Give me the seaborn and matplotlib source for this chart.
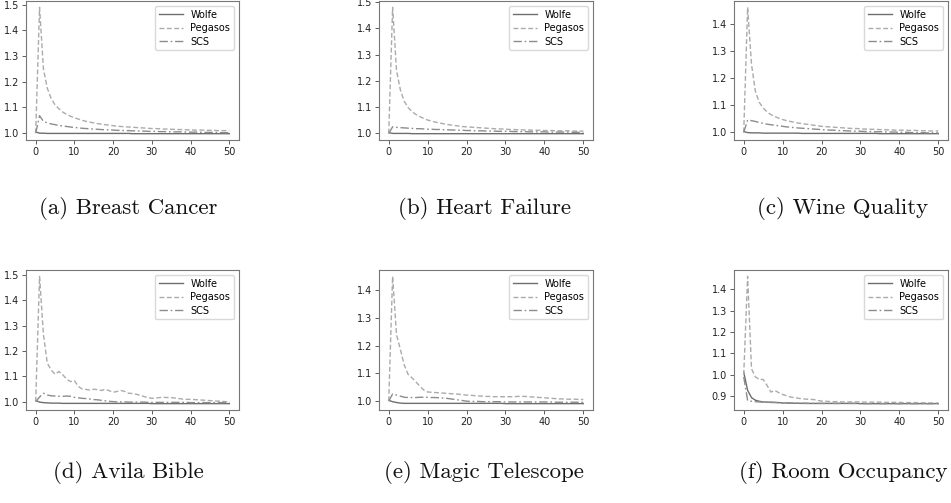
import matplotlib
matplotlib.use("Agg")
import matplotlib.pyplot as plt
import seaborn as sns
import pandas as pd

ITERATIONS = list(range(0, 51))
METHODS = ["Wolfe", "Pegasos", "SCS"]
CAPTIONS = ["(a) Breast Cancer", "(b) Heart Failure", "(c) Wine Quality",
            "(d) Avila Bible", "(e) Magic Telescope", "(f) Room Occupancy"]

# ---------------- (a) Breast Cancer ----------------
wolfe_a = [1.005, 1.000, 1.000, 0.999, 0.999, 0.999, 0.999, 0.999, 0.999, 0.999,
           0.999, 0.999, 0.999, 0.999, 0.999, 0.999, 0.999, 0.999, 0.999, 0.999,
           0.999, 0.999, 0.999, 0.999, 0.999, 0.998, 0.998, 0.998, 0.998, 0.998,
           0.998, 0.998, 0.998, 0.998, 0.998, 0.998, 0.998, 0.998, 0.998, 0.998,
           0.998, 0.998, 0.998, 0.998, 0.998, 0.998, 0.998, 0.998, 0.998, 0.998,
           0.998]
pegasos_a = [1.000, 1.490, 1.250, 1.175, 1.135, 1.110, 1.095, 1.082, 1.073, 1.066,
             1.060, 1.055, 1.050, 1.046, 1.043, 1.040, 1.037, 1.035, 1.033, 1.031,
             1.029, 1.027, 1.026, 1.025, 1.024, 1.023, 1.022, 1.021, 1.020, 1.019,
             1.018, 1.018, 1.017, 1.016, 1.016, 1.015, 1.015, 1.014, 1.014, 1.013,
             1.013, 1.012, 1.012, 1.012, 1.011, 1.011, 1.011, 1.010, 1.010, 1.010,
             1.010]
scs_a = [1.000, 1.068, 1.046, 1.040, 1.036, 1.033, 1.030, 1.028, 1.026, 1.024,
         1.022, 1.021, 1.019, 1.018, 1.017, 1.016, 1.015, 1.014, 1.013, 1.013,
         1.012, 1.011, 1.011, 1.010, 1.010, 1.009, 1.009, 1.008, 1.008, 1.007,
         1.007, 1.007, 1.006, 1.006, 1.006, 1.005, 1.005, 1.005, 1.005, 1.004,
         1.004, 1.004, 1.004, 1.003, 1.003, 1.003, 1.003, 1.003, 1.002, 1.002,
         1.002]

# ---------------- (b) Heart Failure ----------------
wolfe_b = [1.003, 1.000, 1.000, 1.000, 1.000, 1.000, 0.999, 0.999, 0.999, 0.999,
           0.999, 0.999, 0.999, 0.999, 0.999, 0.999, 0.999, 0.999, 0.999, 0.999,
           0.999, 0.999, 0.999, 0.999, 0.999, 0.999, 0.999, 0.999, 0.999, 0.999,
           0.999, 0.999, 0.999, 0.999, 0.999, 0.999, 0.999, 0.999, 0.999, 0.999,
           0.999, 0.999, 0.999, 0.999, 0.999, 0.999, 0.999, 0.999, 0.999, 0.999,
           0.999]
pegasos_b = [1.000, 1.480, 1.240, 1.165, 1.122, 1.098, 1.083, 1.072, 1.064, 1.057,
             1.051, 1.047, 1.043, 1.040, 1.037, 1.034, 1.032, 1.030, 1.028, 1.026,
             1.025, 1.024, 1.023, 1.022, 1.021, 1.020, 1.019, 1.018, 1.017, 1.017,
             1.016, 1.015, 1.015, 1.014, 1.014, 1.013, 1.013, 1.012, 1.012, 1.012,
             1.011, 1.011, 1.011, 1.010, 1.010, 1.010, 1.010, 1.009, 1.009, 1.009,
             1.009]
scs_b = [1.000, 1.025, 1.023, 1.022, 1.021, 1.020, 1.019, 1.018, 1.018, 1.017,
         1.016, 1.016, 1.015, 1.015, 1.014, 1.014, 1.013, 1.013, 1.012, 1.012,
         1.011, 1.011, 1.010, 1.010, 1.010, 1.009, 1.009, 1.009, 1.008, 1.008,
         1.008, 1.008, 1.007, 1.007, 1.007, 1.007, 1.006, 1.006, 1.006, 1.006,
         1.006, 1.005, 1.005, 1.005, 1.005, 1.005, 1.005, 1.004, 1.004, 1.004,
         1.004]

# ---------------- (c) Wine Quality ----------------
wolfe_c = [1.003, 0.999, 0.998, 0.998, 0.998, 0.997, 0.997, 0.997, 0.997, 0.997,
           0.997, 0.997, 0.997, 0.997, 0.997, 0.996, 0.996, 0.996, 0.996, 0.996,
           0.996, 0.996, 0.996, 0.996, 0.996, 0.996, 0.996, 0.996, 0.996, 0.996,
           0.996, 0.996, 0.996, 0.996, 0.996, 0.995, 0.995, 0.995, 0.995, 0.995,
           0.995, 0.995, 0.995, 0.995, 0.995, 0.995, 0.995, 0.995, 0.995, 0.995,
           0.995]
pegasos_c = [1.000, 1.460, 1.250, 1.150, 1.110, 1.090, 1.075, 1.065, 1.058, 1.052,
             1.047, 1.043, 1.040, 1.037, 1.034, 1.032, 1.030, 1.028, 1.026, 1.024,
             1.022, 1.021, 1.020, 1.019, 1.018, 1.017, 1.016, 1.015, 1.014, 1.014,
             1.013, 1.012, 1.012, 1.011, 1.011, 1.010, 1.010, 1.009, 1.009, 1.008,
             1.008, 1.008, 1.007, 1.007, 1.007, 1.006, 1.006, 1.006, 1.005, 1.005,
             1.005]
scs_c = [1.000, 1.045, 1.043, 1.040, 1.036, 1.033, 1.030, 1.028, 1.026, 1.024,
         1.022, 1.020, 1.019, 1.017, 1.016, 1.015, 1.014, 1.013, 1.012, 1.011,
         1.010, 1.009, 1.008, 1.008, 1.007, 1.006, 1.006, 1.005, 1.005, 1.004,
         1.004, 1.003, 1.003, 1.003, 1.002, 1.002, 1.002, 1.001, 1.001, 1.001,
         1.000, 1.000, 1.000, 0.999, 0.999, 0.999, 0.999, 0.998, 0.998, 0.998,
         0.998]

# ---------------- (d) Avila Bible ----------------
wolfe_d = [1.005, 0.998, 0.996, 0.995, 0.994, 0.994, 0.994, 0.993, 0.993, 0.993,
           0.993, 0.993, 0.993, 0.993, 0.993, 0.993, 0.993, 0.993, 0.993, 0.993,
           0.993, 0.993, 0.993, 0.993, 0.993, 0.993, 0.993, 0.993, 0.993, 0.993,
           0.992, 0.992, 0.992, 0.992, 0.992, 0.992, 0.992, 0.992, 0.992, 0.992,
           0.992, 0.992, 0.992, 0.992, 0.992, 0.992, 0.992, 0.992, 0.992, 0.992,
           0.992]
pegasos_d = [1.000, 1.495, 1.265, 1.152, 1.125, 1.108, 1.119, 1.106, 1.089, 1.079,
             1.083, 1.060, 1.050, 1.048, 1.046, 1.049, 1.047, 1.044, 1.049, 1.043,
             1.037, 1.040, 1.044, 1.040, 1.033, 1.032, 1.029, 1.025, 1.020, 1.016,
             1.013, 1.014, 1.016, 1.017, 1.016, 1.016, 1.014, 1.012, 1.010, 1.009,
             1.009, 1.008, 1.007, 1.006, 1.005, 1.004, 1.003, 1.002, 1.001, 1.000,
             0.999]
scs_d = [1.000, 1.018, 1.033, 1.026, 1.023, 1.022, 1.021, 1.021, 1.022, 1.021,
         1.017, 1.015, 1.013, 1.012, 1.010, 1.008, 1.007, 1.005, 1.003, 1.001,
         1.000, 0.999, 0.999, 0.999, 0.998, 0.998, 0.998, 0.998, 0.998, 0.997,
         0.997, 0.997, 0.997, 0.997, 0.997, 0.997, 0.997, 0.997, 0.997, 0.997,
         0.996, 0.996, 0.996, 0.996, 0.996, 0.996, 0.996, 0.996, 0.996, 0.996,
         0.996]

# ---------------- (e) Magic Telescope ----------------
wolfe_e = [1.003, 0.998, 0.995, 0.993, 0.992, 0.992, 0.992, 0.992, 0.992, 0.992,
           0.992, 0.992, 0.992, 0.992, 0.992, 0.992, 0.992, 0.992, 0.992, 0.992,
           0.992, 0.992, 0.992, 0.992, 0.992, 0.992, 0.992, 0.992, 0.992, 0.992,
           0.991, 0.991, 0.991, 0.991, 0.991, 0.991, 0.991, 0.991, 0.991, 0.991,
           0.991, 0.991, 0.991, 0.991, 0.991, 0.991, 0.991, 0.991, 0.991, 0.991,
           0.991]
pegasos_e = [1.000, 1.450, 1.240, 1.186, 1.130, 1.096, 1.084, 1.069, 1.054, 1.040,
             1.033, 1.032, 1.031, 1.030, 1.029, 1.028, 1.027, 1.026, 1.025, 1.023,
             1.022, 1.021, 1.020, 1.019, 1.018, 1.017, 1.017, 1.016, 1.016, 1.016,
             1.016, 1.016, 1.016, 1.017, 1.017, 1.017, 1.016, 1.015, 1.014, 1.013,
             1.012, 1.011, 1.010, 1.009, 1.008, 1.008, 1.007, 1.007, 1.007, 1.006,
             1.006]
scs_e = [1.000, 1.026, 1.022, 1.018, 1.014, 1.013, 1.013, 1.013, 1.014, 1.014,
         1.014, 1.013, 1.013, 1.012, 1.011, 1.010, 1.008, 1.006, 1.004, 1.002,
         1.000, 0.999, 0.999, 0.999, 0.998, 0.998, 0.998, 0.998, 0.998, 0.998,
         0.997, 0.997, 0.997, 0.997, 0.997, 0.997, 0.997, 0.997, 0.997, 0.997,
         0.997, 0.997, 0.997, 0.996, 0.996, 0.996, 0.996, 0.996, 0.996, 0.996,
         0.996]

# ---------------- (f) Room Occupancy ----------------
wolfe_f = [1.012, 0.927, 0.893, 0.881, 0.876, 0.873, 0.872, 0.872, 0.871, 0.870,
           0.868, 0.868, 0.867, 0.867, 0.867, 0.866, 0.866, 0.866, 0.866, 0.866,
           0.866, 0.866, 0.866, 0.866, 0.866, 0.866, 0.866, 0.866, 0.866, 0.866,
           0.865, 0.865, 0.865, 0.865, 0.865, 0.865, 0.865, 0.865, 0.865, 0.865,
           0.865, 0.865, 0.865, 0.865, 0.865, 0.865, 0.865, 0.865, 0.865, 0.865,
           0.865]
pegasos_f = [1.000, 1.460, 1.028, 0.990, 0.978, 0.978, 0.950, 0.919, 0.927, 0.916,
             0.908, 0.902, 0.896, 0.893, 0.890, 0.888, 0.886, 0.885, 0.884, 0.880,
             0.877, 0.876, 0.875, 0.874, 0.874, 0.873, 0.873, 0.873, 0.873, 0.873,
             0.873, 0.872, 0.872, 0.872, 0.872, 0.872, 0.871, 0.871, 0.871, 0.871,
             0.871, 0.870, 0.870, 0.870, 0.870, 0.869, 0.869, 0.869, 0.868, 0.868,
             0.868]
scs_f = [0.990, 0.880, 0.876, 0.874, 0.873, 0.872, 0.871, 0.870, 0.870, 0.869,
         0.868, 0.868, 0.868, 0.867, 0.867, 0.867, 0.867, 0.866, 0.866, 0.866,
         0.866, 0.866, 0.866, 0.866, 0.866, 0.866, 0.866, 0.866, 0.866, 0.866,
         0.865, 0.865, 0.865, 0.865, 0.865, 0.865, 0.865, 0.865, 0.865, 0.865,
         0.865, 0.865, 0.865, 0.865, 0.865, 0.865, 0.865, 0.865, 0.865, 0.865,
         0.865]

PANELS = [
    (wolfe_a, pegasos_a, scs_a),
    (wolfe_b, pegasos_b, scs_b),
    (wolfe_c, pegasos_c, scs_c),
    (wolfe_d, pegasos_d, scs_d),
    (wolfe_e, pegasos_e, scs_e),
    (wolfe_f, pegasos_f, scs_f),
]

# ---------------- styling ----------------
W, H = 951, 503
fig = plt.figure(figsize=(W / 100, H / 100), dpi=100)

palette = {"Wolfe": "#6e6e6e", "Pegasos": "#ababab", "SCS": "#8c8c8c"}
dashes = {"Wolfe": "", "Pegasos": (3.5, 1.8), "SCS": (6, 2, 1.2, 2)}

# axes boxes in pixels: (left, top, right, bottom)
col_px = [(26, 239), (379, 593), (734, 948)]
row_px = [(1, 140), (270, 410)]
cap_x = [128, 484, 843]
cap_y = [209, 473]

for i, (series, caption) in enumerate(zip(PANELS, CAPTIONS)):
    r, c = divmod(i, 3)
    l, rr = col_px[c]
    t, b = row_px[r]
    ax = fig.add_axes([l / W, 1 - b / H, (rr - l) / W, (b - t) / H])

    frames = []
    for m, vals in zip(METHODS, series):
        frames.append(pd.DataFrame({"iter": ITERATIONS, "value": vals, "method": m}))
    df = pd.concat(frames, ignore_index=True)

    sns.lineplot(data=df, x="iter", y="value", hue="method", style="method",
                 palette=palette, dashes=dashes, hue_order=METHODS,
                 style_order=METHODS, linewidth=1.0, ax=ax, legend=True)

    handles, labels = ax.get_legend_handles_labels()
    ax.legend(handles, labels, loc="upper right", fontsize=7,
              handlelength=2.4, borderpad=0.4, labelspacing=0.35,
              handletextpad=0.8, framealpha=0.8, edgecolor="#d0d0d0")

    ax.set_xlabel("")
    ax.set_ylabel("")
    ax.set_xticks([0, 10, 20, 30, 40, 50])
    ax.tick_params(labelsize=7, length=3, width=0.6, colors="#444444",
                   labelcolor="#222222", pad=2)
    for sp in ax.spines.values():
        sp.set_color("#777777")
        sp.set_linewidth(0.8)

    fig.text(cap_x[c] / W, 1 - cap_y[r] / H, caption, ha="center", va="center",
             fontfamily="cmr10", fontsize=16.5, color="#111111")

fig.savefig("out.png", dpi=100)
